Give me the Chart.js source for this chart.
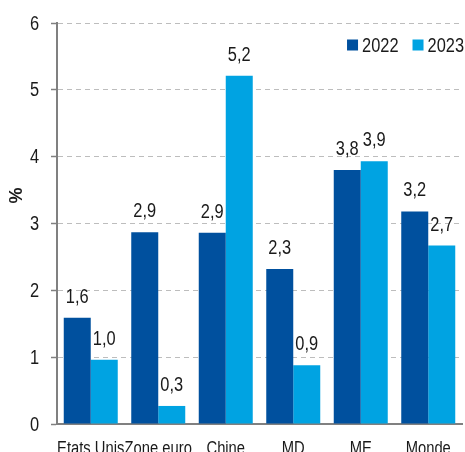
<!DOCTYPE html>
<html lang="fr">
<head>
<meta charset="utf-8">
<script src="https://cdn.jsdelivr.net/npm/chart.js@4.4.1/dist/chart.umd.min.js"></script>
<style>
  html, body { margin: 0; padding: 0; background: #fff; }
</style>
</head>
<body>
<canvas id="chart" width="465" height="452"></canvas>
<script>
// données (%)
const categories = ['Etats Unis', 'Zone euro', 'Chine', 'MD', 'ME', 'Monde'];
const seriesNames = ['2022', '2023'];
const values2022 = [1.59, 2.87, 2.86, 2.32, 3.80, 3.18];
const values2023 = [0.96, 0.27, 5.21, 0.88, 3.93, 2.67];
const yTicks = [0, 1, 2, 3, 4, 5, 6];
const yTitle = '%';

const FONT = "'Liberation Sans Narrow', 'Arial Narrow', 'Liberation Sans', Arial, sans-serif";
const NARROW = 0.82; // pas de police étroite installée : on compresse à l'horizontale
const TEXT = '#1a1a1a';
const AXIS = '#808080';
const DARK = '#00509e';
const LIGHT = '#00a3e2';

// format français : virgule décimale
function fmt(v) {
    return v.toFixed(1).replace('.', ',');
}

// texte "Arial Narrow" simulé
function narrowText(ctx, text, x, y) {
    ctx.save();
    ctx.translate(x, y);
    ctx.scale(NARROW, 1);
    ctx.fillText(text, 0, 0);
    ctx.restore();
}

// libellés des axes, dessinés à partir des échelles du graphique
const axisLabels = {
    id: 'axisLabels',
    afterDraw(chart) {
        const ctx = chart.ctx;
        const area = chart.chartArea;
        const xs = chart.scales.x, ys = chart.scales.y;
        ctx.save();
        ctx.fillStyle = TEXT;

        ctx.font = '18px ' + FONT;
        ctx.textAlign = 'center';
        ctx.textBaseline = 'alphabetic';
        categories.forEach((c, i) => {
            narrowText(ctx, c, xs.getPixelForTick(i), area.bottom + 30);
        });

        ctx.font = '20px ' + FONT;
        ctx.textAlign = 'right';
        ctx.textBaseline = 'middle';
        yTicks.forEach(v => {
            narrowText(ctx, String(v), area.left - 18, ys.getPixelForValue(v) + 1);
        });

        // titre de l'axe y, un peu au-dessus du centre
        ctx.translate(17, area.top + (area.bottom - area.top) * 0.43);
        ctx.rotate(-Math.PI / 2);
        ctx.font = 'bold 18px ' + FONT;
        ctx.textAlign = 'center';
        ctx.textBaseline = 'middle';
        ctx.fillText(yTitle, 0, 0);
        ctx.restore();
    }
};

// étiquettes de valeur au-dessus des barres
const valueLabels = {
    id: 'valueLabels',
    afterDatasetsDraw(chart) {
        const ctx = chart.ctx;
        ctx.save();
        ctx.font = '20px ' + FONT;
        ctx.fillStyle = TEXT;
        ctx.textAlign = 'center';
        ctx.textBaseline = 'alphabetic';
        chart.data.datasets.forEach((ds, i) => {
            chart.getDatasetMeta(i).data.forEach((bar, j) => {
                narrowText(ctx, fmt(ds.data[j]), bar.x, bar.y - 15);
            });
        });
        ctx.restore();
    }
};

// légende en haut à droite, dans la zone du graphique
const topLegend = {
    id: 'topLegend',
    afterDraw(chart) {
        const ctx = chart.ctx;
        const area = chart.chartArea;
        const box = 11, gapText = 4, gapItem = 14;
        ctx.save();
        ctx.font = '20px ' + FONT;
        ctx.textBaseline = 'middle';
        ctx.textAlign = 'left';
        const items = chart.data.datasets.map(ds => ({
            text: ds.label,
            color: ds.backgroundColor,
            w: box + gapText + ctx.measureText(ds.label).width * NARROW
        }));
        const total = items.reduce((s, it) => s + it.w, 0) + gapItem * (items.length - 1);
        let x = chart.width - 1 - total;
        const y = area.top + 22;
        items.forEach(it => {
            ctx.fillStyle = it.color;
            ctx.fillRect(x, y - box / 2, box, box);
            ctx.fillStyle = TEXT;
            narrowText(ctx, it.text, x + box + gapText, y + 1);
            x += it.w + gapItem;
        });
        ctx.restore();
    }
};

new Chart(document.getElementById('chart').getContext('2d'), {
    type: 'bar',
    data: {
        labels: categories,
        datasets: [
            { label: seriesNames[0], data: values2022, backgroundColor: DARK },
            { label: seriesNames[1], data: values2023, backgroundColor: LIGHT }
        ]
    },
    options: {
        responsive: false,
        animation: false,
        devicePixelRatio: 1,
        layout: { padding: { top: 23, right: 3, bottom: 0, left: 0 } },
        datasets: {
            bar: { barPercentage: 1, categoryPercentage: 0.8, borderWidth: 0 }
        },
        plugins: {
            legend: { display: false },
            tooltip: { enabled: false }
        },
        scales: {
            x: {
                grid: { display: false, drawTicks: false },
                border: { color: AXIS, width: 2 },
                ticks: { display: false },
                afterFit(scale) { scale.height = 28; }
            },
            y: {
                min: 0,
                max: 6,
                afterBuildTicks(scale) {
                    scale.ticks = yTicks.map(v => ({ value: v }));
                },
                ticks: { display: false },
                grid: {
                    color: '#bdbdbd',
                    lineWidth: 1,
                    drawTicks: true,
                    tickLength: 6,
                    tickColor: AXIS,
                    tickWidth: 1.5
                },
                border: { color: AXIS, width: 2, dash: [5, 4] },
                afterFit(scale) { scale.width = 57; }
            }
        }
    },
    plugins: [valueLabels, topLegend, axisLabels]
});
</script>
</body>
</html>
